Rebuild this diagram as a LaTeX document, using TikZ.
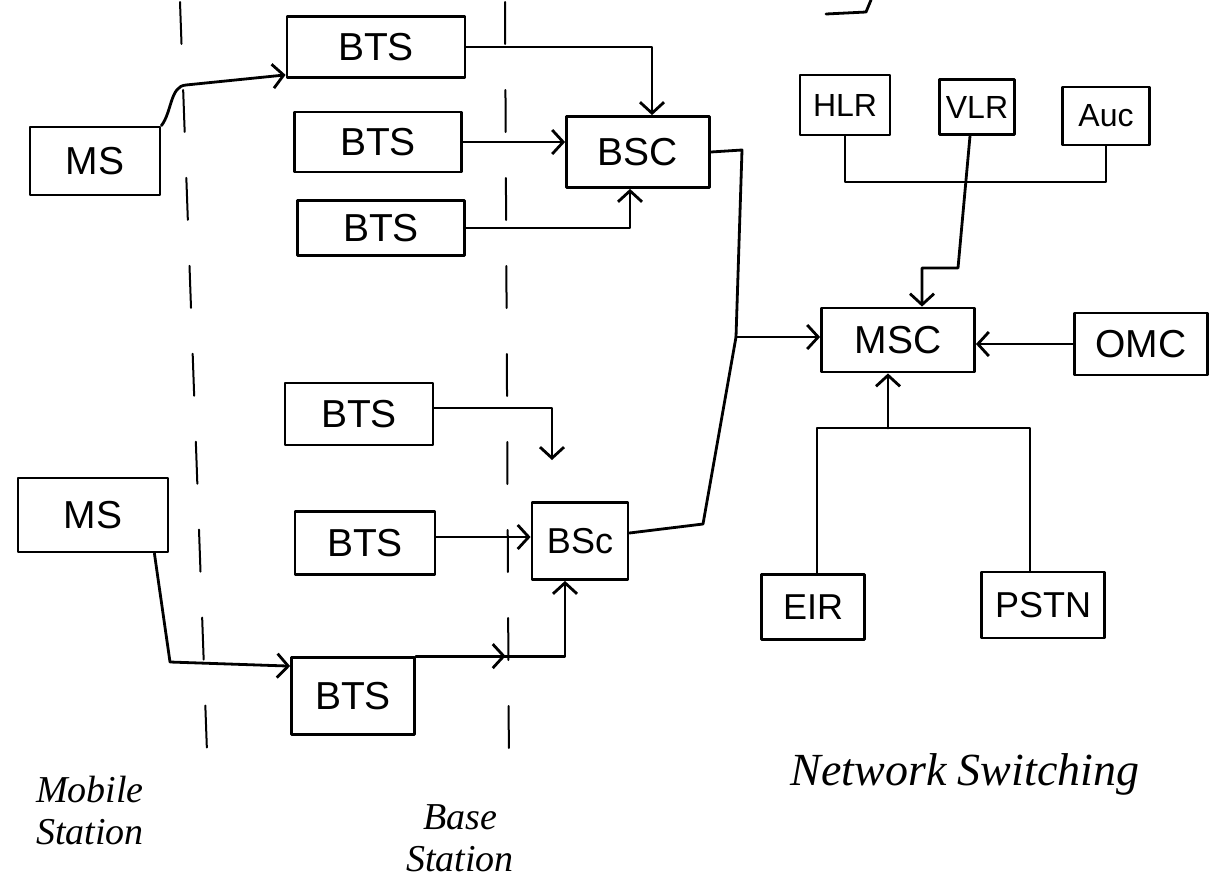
\documentclass[tikz,border=0pt]{standalone}
\usepackage{fontspec}
\setmainfont{Liberation Sans}
\newfontfamily\handfont{Liberation Serif}
\usetikzlibrary{arrows.meta,decorations.markings}
\begin{document}
\begin{tikzpicture}[x=1pt,y=-1pt,
  line width=2.8pt, line cap=round, line join=round,
  box/.style={draw, inner sep=0pt, font=\fontsize{39}{40}\selectfont},
  smallbox/.style={box, font=\fontsize{32}{34}\selectfont},
  midbox/.style={box, font=\fontsize{36}{38}\selectfont},
  arr/.style={-{Straight Barb[length=11pt,width=24pt]}},
  midarr/.style={postaction={decorate}, decoration={markings,
      mark=at position #1 with {\arrow{Straight Barb[length=11pt,width=24pt]}}}},
  divider/.style={line width=2pt, dash pattern=on 42pt off 46pt},
  lbl/.style={font=\handfont\itshape\fontsize{38}{42}\selectfont, align=center, inner sep=0pt}]
\useasboundingbox (0,0) rectangle (1220,884);

% dividers
\draw[divider] (180,2) -- (208,780);
\draw[divider] (505,2) -- (509,780);
\draw (826,14) -- (866,12) -- (871,0);

% nodes
\node[box, minimum width=130pt, minimum height=68pt] (MS1) at (95,161) {MS};
\node[box, minimum width=178pt, minimum height=61pt] (BTS1) at (376,47) {BTS};
\node[box, minimum width=167pt, minimum height=60pt] (BTS2) at (378,142) {BTS};
\node[box, minimum width=167pt, minimum height=55pt] (BTS3) at (381,228) {BTS};
\node[box, minimum width=143pt, minimum height=71pt] (BSC1) at (638,152) {BSC};
\node[smallbox, minimum width=90pt, minimum height=60pt] (HLR) at (845,105) {HLR};
\node[smallbox, minimum width=75pt, minimum height=55pt] (VLR) at (977,107) {VLR};
\node[smallbox, minimum width=87pt, minimum height=58pt] (Aux) at (1106,116) {Auc};
\node[box, minimum width=153pt, minimum height=64pt] (MSC) at (898,340) {MSC};
\node[box, minimum width=133pt, minimum height=62pt] (OMC) at (1141,344) {OMC};
\node[box, minimum width=148pt, minimum height=62pt] (BTS4) at (359,414) {BTS};
\node[box, minimum width=150pt, minimum height=74pt] (MS2) at (93,515) {MS};
\node[box, minimum width=140pt, minimum height=63pt] (BTS5) at (365,543) {BTS};
\node[midbox, minimum width=96pt, minimum height=77pt] (BSC2) at (580,541) {BSc};
\node[box, minimum width=123pt, minimum height=77pt] (BTS6) at (353,696) {BTS};
\node[midbox, minimum width=103pt, minimum height=65pt] (EIR) at (813,607) {EIR};
\node[midbox, minimum width=123pt, minimum height=66pt] (PSTN) at (1043,605) {PSTN};

% labels
\node[lbl] (lms) at (90,810) {Mobile\\Station};
\node[lbl] (lbs) at (460,838) {Base\\Station};
\node[lbl, font=\handfont\itshape\fontsize{46}{48}\selectfont] (lns) at (965,774) {Network Switching};

% helper coordinates
\coordinate (J) at (736,337);
\coordinate (dn) at (552,460);
\coordinate (busY) at (0,182);
\coordinate (busB) at (0,428);
\coordinate (b5) at ([yshift=6pt]BTS5.east);
\coordinate (mscT) at ([xshift=24pt]MSC.north);
\coordinate (vlrB) at ([xshift=-7pt]VLR.south);
\coordinate (eirT) at ([xshift=4pt]EIR.north);
\coordinate (pstnT) at ([xshift=-13pt]PSTN.north);
\coordinate (mscB) at ([xshift=-10pt]MSC.south);

% base station side
\draw[arr] (MS1.north east) .. controls (172,112) and (170,86) .. (186,85) -- ([yshift=4pt]BTS1.south west);
\draw[arr] (BTS1.east) -| ([xshift=14pt]BSC1.north);
\draw[arr] (BTS2.east) -- (BSC1.west |- BTS2.east);
\draw[arr] (BTS3.east) -| ([xshift=-8pt]BSC1.south);
\draw (BSC1.east) -- (742,150) -- (J);
\draw ([yshift=8pt]BSC2.east) -- (703,524) -- (J);
\draw[arr] (J) -- (MSC.west |- J);

\draw[arr] ([yshift=6pt]BTS4.east) -| (dn);
\draw[arr] (b5) -- (BSC2.west |- b5);
\draw[arr] ([xshift=-15pt]MS2.south east) -- (170,662) -- ([yshift=-10pt]BTS6.north west);
\draw[arr, midarr=0.4] (BTS6.north east) -| ([xshift=-15pt]BSC2.south);

% network switching side
\draw (HLR.south) |- (Aux.south |- busY) -- (Aux.south);
\draw[arr] (vlrB) -- (958,268) -- (mscT |- 0,268) -- (mscT);
\draw[arr] (OMC.west) -- (MSC.east |- OMC.west);
\draw (eirT) |- (pstnT |- busB) -- (pstnT);
\draw[arr] (mscB |- busB) -- (mscB);
\end{tikzpicture}
\end{document}
